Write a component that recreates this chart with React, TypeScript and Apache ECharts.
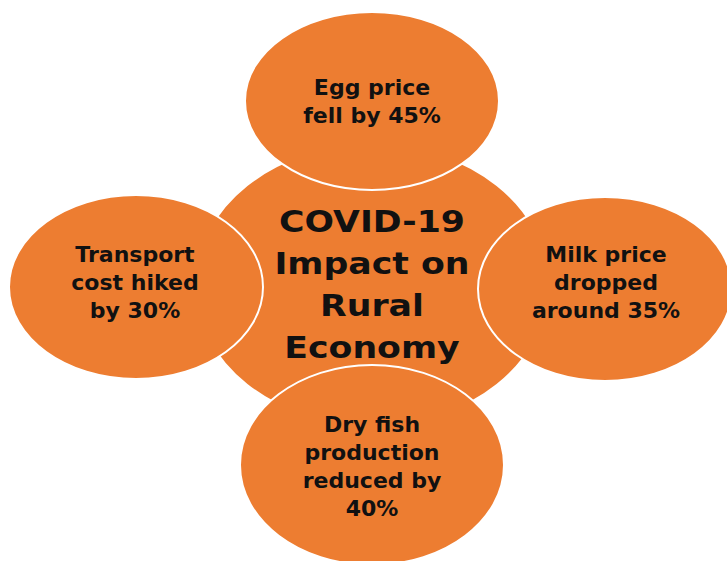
import React, { useEffect, useRef } from "react";
import * as echarts from "echarts";

const centerTitle = ["COVID-19", "Impact on", "Rural", "Economy"];
const impactLabels = [
  ["Transport", "cost hiked", "by 30%"],
  ["Milk price", "dropped", "around 35%"],
  ["Egg price", "fell by 45%"],
  ["Dry fish", "production", "reduced by", "40%"],
];

const ORANGE = "#ED7D31";
const FONT = "DejaVu Sans";

// layout of bubbles
const centerShape = { cx: 372, cy: 285, rx: 177, ry: 141 };
const layout = [
  { cx: 136, cy: 287, rx: 127, ry: 92, tx: 135, ty: 282 },
  { cx: 605, cy: 289, rx: 127, ry: 92, tx: 606, ty: 282 },
  { cx: 372, cy: 101, rx: 127, ry: 89, tx: 372, ty: 101 },
  { cx: 372, cy: 465, rx: 132, ry: 100, tx: 372, ty: 466 },
];

export default function App() {
  const ref = useRef<HTMLDivElement>(null);
  useEffect(() => {
    if (!ref.current) return;
    const chart = echarts.init(ref.current, undefined, { renderer: "svg" });
    const elements: any[] = [];
    elements.push({
      type: "ellipse",
      shape: centerShape,
      style: { fill: ORANGE, stroke: "#fff", lineWidth: 2 },
      z: 1,
    });
    elements.push({
      type: "text",
      x: 372,
      y: 284,
      scaleX: 1.12,
      style: {
        text: centerTitle.join("\n"),
        fill: "#111",
        font: `bold 31px "${FONT}"`,
        textAlign: "center",
        textVerticalAlign: "middle",
        lineHeight: 42,
      },
      z: 10,
    });
    impactLabels.forEach((lines, i) => {
      const l = layout[i];
      elements.push({
        type: "ellipse",
        shape: { cx: l.cx, cy: l.cy, rx: l.rx, ry: l.ry },
        style: { fill: ORANGE, stroke: "#fff", lineWidth: 2 },
        z: 2 + i,
      });
      elements.push({
        type: "text",
        x: l.tx,
        y: l.ty,
        style: {
          text: lines.join("\n"),
          fill: "#111",
          font: `bold 22px "${FONT}"`,
          textAlign: "center",
          textVerticalAlign: "middle",
          lineHeight: 28,
        },
        z: 10 + i,
      });
    });
    chart.setOption({
      animation: false,
      backgroundColor: "#fff",
      graphic: { elements },
    });
    return () => chart.dispose();
  }, []);
  return (
    <div
      ref={ref}
      style={{ position: "fixed", left: 0, top: 0, width: 727, height: 561 }}
    />
  );
}
